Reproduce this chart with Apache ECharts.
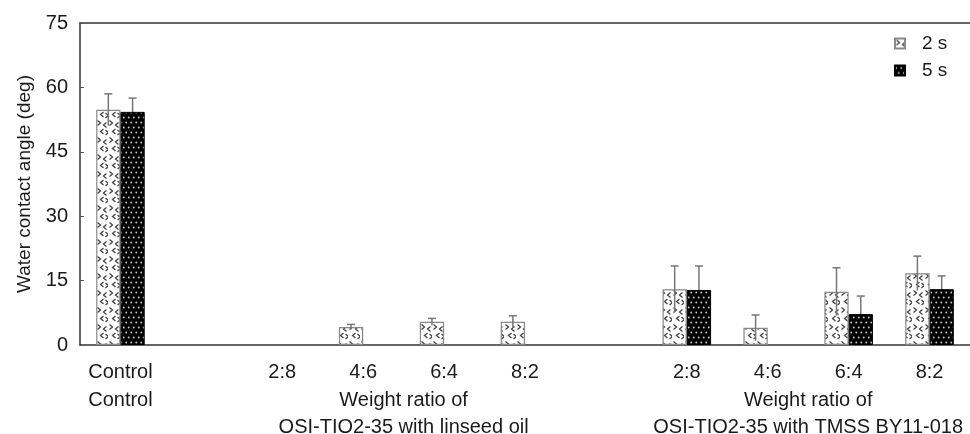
<!DOCTYPE html>
<html>
<head>
<meta charset="utf-8">
<script src="https://cdn.jsdelivr.net/npm/echarts@6/dist/echarts.min.js"></script>
<style>
html,body{margin:0;padding:0;background:#fff;}
#c{width:970px;height:434px;}
</style>
</head>
<body>
<div id="c"></div>
<script>
// ---- data ----
const categories = ['Control', '', '2:8', '4:6', '6:4', '8:2', '', '2:8', '4:6', '6:4', '8:2'];
const seriesNames = ['2 s', '5 s'];
const values2s = [54.8, 0, 0, 4.2, 5.4, 5.4, 0, 13.0, 4.0, 12.4, 16.7];
const errors2s = [3.7, 0, 0, 0.6, 0.8, 1.4, 0, 5.4, 3.0, 5.6, 4.0];
const values5s = [54.3, 0, 0, 0, 0, 0, 0, 12.8, 0, 7.2, 13.0];
const errors5s = [3.2, 0, 0, 0, 0, 0, 0, 5.6, 0, 4.2, 3.1];
const yTicks = [0, 15, 30, 45, 60, 75];
const groupLabelPos = [0.5, 4, 9];
const groupLabels = ['Control', 'Weight ratio of\nOSI-TIO2-35 with linseed oil', 'Weight ratio of\nOSI-TIO2-35 with TMSS BY11-018'];
const yName = 'Water contact angle (deg)';

// ---- patterns ----
function chevron(g, x, y, right) {
  g.beginPath();
  if (right) { g.moveTo(x, y); g.lineTo(x + 3, y + 2.5); g.lineTo(x, y + 5); }
  else { g.moveTo(x + 3, y); g.lineTo(x, y + 2.5); g.lineTo(x + 3, y + 5); }
  g.stroke();
}
function pattern2s() {
  const c = document.createElement('canvas');
  c.width = 12; c.height = 17;
  const g = c.getContext('2d');
  g.fillStyle = '#fff'; g.fillRect(0, 0, 12, 17);
  g.strokeStyle = '#444'; g.lineWidth = 1.3;
  chevron(g, 1.5, 1.5, true);
  chevron(g, 7.5, 3.5, false);
  chevron(g, 4.5, 10, false);
  chevron(g, 9.5, 11, true);
  return c;
}
function pattern5s() {
  const c = document.createElement('canvas');
  c.width = 5; c.height = 10;
  const g = c.getContext('2d');
  g.fillStyle = '#000'; g.fillRect(0, 0, 5, 10);
  g.fillStyle = '#c8c8c8';
  g.beginPath(); g.arc(1.25, 2.5, 0.95, 0, Math.PI * 2); g.fill();
  g.beginPath(); g.arc(3.75, 7.5, 0.95, 0, Math.PI * 2); g.fill();
  return c;
}

function errorRenderer(side) {
  return function (params, api) {
    const idx = api.value(0), mean = api.value(1), err = api.value(2);
    if (!err) return null;
    const band = api.size([1, 0])[0];
    const off = side * band * 0.15;
    const top = api.coord([idx, mean + err]);
    const bot = api.coord([idx, mean - err]);
    const x = top[0] + off;
    const style = { stroke: '#777', lineWidth: 1.5 };
    return {
      type: 'group',
      children: [
        { type: 'line', shape: { x1: x, y1: bot[1], x2: x, y2: top[1] }, style },
        { type: 'line', shape: { x1: x - 4, y1: top[1], x2: x + 4, y2: top[1] }, style }
      ]
    };
  };
}
const hideZero = v => (v === 0 ? '-' : v);

const chart = echarts.init(document.getElementById('c'), null, { renderer: 'canvas' });
const axisColor = '#333';
const txt = '#1a1a1a';
chart.setOption({
  animation: false,
  textStyle: { fontFamily: 'Liberation Sans, Arial, sans-serif' },
  grid: { left: 80, right: 0, top: 23, bottom: 89, outerBoundsMode: 'none', containLabel: false },
  legend: {
    data: seriesNames,
    orient: 'vertical',
    left: 889, top: 29,
    icon: 'rect',
    itemWidth: 10, itemHeight: 10, itemGap: 8,
    textStyle: { fontSize: 19, color: txt, padding: [0, 0, 0, 12] }
  },
  xAxis: [
    {
      type: 'category', data: categories, position: 'bottom',
      axisLine: { lineStyle: { color: axisColor, width: 1.5 } },
      axisTick: { inside: true, length: 5, lineStyle: { color: '#555' } },
      axisLabel: { interval: 0, fontSize: 20, color: txt, margin: 17 },
      splitLine: { show: false }
    },
    {
      type: 'value', min: 0, max: 11, interval: 0.5, position: 'bottom',
      axisLine: { show: false }, axisTick: { show: false }, splitLine: { show: false },
      axisLabel: {
        fontSize: 20, color: txt, margin: 42, lineHeight: 27,
        showMinLabel: true, showMaxLabel: true,
        formatter: function (v) {
          for (let i = 0; i < groupLabelPos.length; i++) {
            if (Math.abs(v - groupLabelPos[i]) < 1e-6) return groupLabels[i];
          }
          return '';
        }
      }
    },
    {
      type: 'value', min: 0, max: 1, position: 'top',
      axisLine: { show: true, lineStyle: { color: axisColor, width: 1.5 } },
      axisTick: { show: false }, axisLabel: { show: false }, splitLine: { show: false }
    }
  ],
  yAxis: {
    type: 'value', min: yTicks[0], max: yTicks[yTicks.length - 1], interval: 15,
    name: yName, nameLocation: 'middle', nameGap: 46,
    nameTextStyle: { fontSize: 19, color: txt },
    axisLine: { show: true, lineStyle: { color: axisColor, width: 1.5 } },
    axisTick: { show: true, inside: true, length: 4, lineStyle: { color: '#555' } },
    axisLabel: { fontSize: 20, color: txt, margin: 12 },
    splitLine: { show: false }
  },
  series: [
    {
      name: seriesNames[0], type: 'bar', data: values2s.map(hideZero),
      barGap: '0%', barCategoryGap: '40%', z: 2,
      itemStyle: { color: { image: pattern2s(), repeat: 'repeat' }, borderColor: '#888', borderWidth: 1.2 }
    },
    {
      name: seriesNames[1], type: 'bar', data: values5s.map(hideZero), z: 2,
      itemStyle: { color: { image: pattern5s(), repeat: 'repeat' }, borderColor: '#000', borderWidth: 1 }
    },
    {
      name: 'err2', type: 'custom', z: 3,
      renderItem: errorRenderer(-1),
      encode: { x: 0, y: 1 },
      data: values2s.map((v, i) => [i, v, errors2s[i]])
    },
    {
      name: 'err5', type: 'custom', z: 1,
      renderItem: errorRenderer(1),
      encode: { x: 0, y: 1 },
      data: values5s.map((v, i) => [i, v, errors5s[i]])
    }
  ]
});
</script>
</body>
</html>
